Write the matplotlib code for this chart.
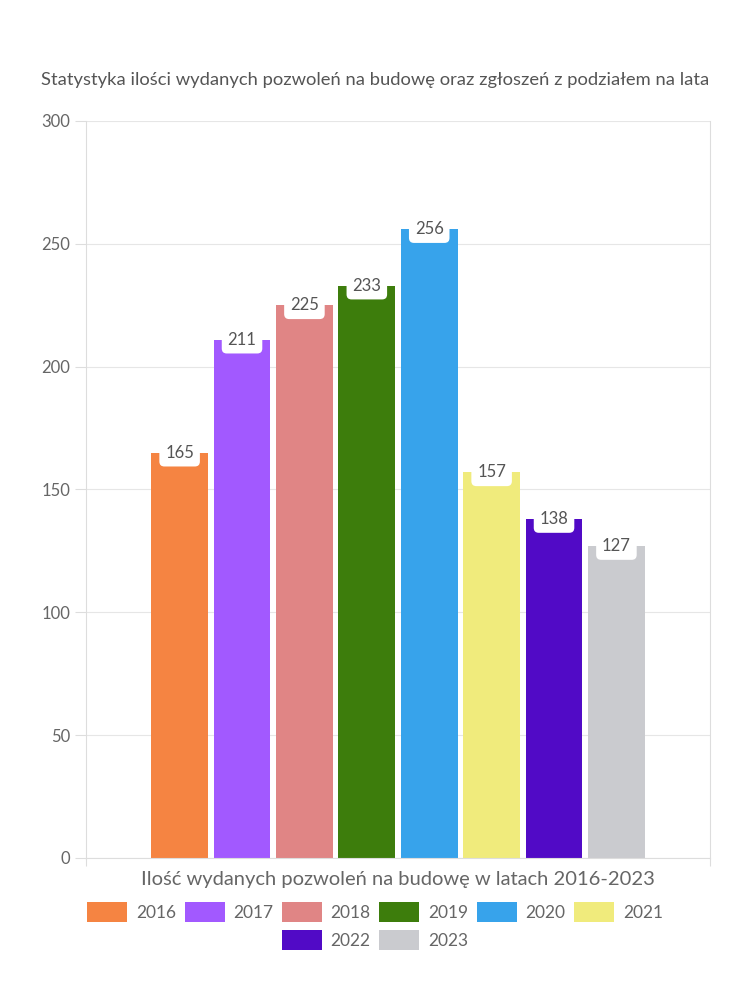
import matplotlib.pyplot as plt
from matplotlib.patches import Patch

# data
years = ['2016', '2017', '2018', '2019', '2020', '2021', '2022', '2023']
values = [165, 211, 225, 233, 256, 157, 138, 127]
colors = ['#F58442', '#A259FF', '#E08585', '#3D7D0C',
          '#37A3EB', '#F0EB7C', '#510AC6', '#CACBCF']
title = 'Statystyka ilości wydanych pozwoleń na budowę oraz zgłoszeń z podziałem na lata'
xlabel = 'Ilość wydanych pozwoleń na budowę w latach 2016-2023'

plt.rcParams['font.family'] = ['Lato', 'DejaVu Sans']
text_col = '#666666'
line_col = '#DDDDDD'

fig = plt.figure(figsize=(7.5, 10), dpi=100)
ax = fig.add_axes([0.1147, 0.142, 0.832, 0.737])

step = 0.1
width = 0.091
for i, (y, v, c) in enumerate(zip(years, values, colors)):
    x = (i - 3.5) * step
    ax.bar(x, v, width=width, color=c, zorder=2)
    ax.text(x, v, str(v), ha='center', va='center', fontsize=12,
            color='#555555', zorder=3,
            bbox=dict(boxstyle='round,pad=0.35,rounding_size=0.3',
                      fc='white', ec='none'))

ax.set_xlim(-0.5, 0.5)
ax.set_ylim(0, 300)
ax.set_yticks(range(0, 301, 50))
ax.set_xticks([-0.5, 0.5])
ax.set_xticklabels(['', ''])
ax.grid(axis='y', color='#E6E6E6', linewidth=0.8, zorder=0)
ax.tick_params(axis='y', colors=line_col, labelcolor=text_col,
               labelsize=12, length=8, width=0.8)
ax.tick_params(axis='x', colors=line_col, length=6, width=0.8)

for s in ['left', 'bottom', 'right']:
    ax.spines[s].set_color(line_col)
    ax.spines[s].set_linewidth(0.8)
ax.spines['top'].set_visible(False)

fig.text(0.5, 0.92, title, ha='center', va='center', fontsize=13.2,
         color='#555555')
fig.text(0.531, 0.12, xlabel, ha='center', va='center', fontsize=14.5,
         color=text_col)

# legend in two rows: 6 items on top, 2 centred below
handles = [Patch(facecolor=c, edgecolor='none', label=y)
           for y, c in zip(years, colors)]
leg_kw = dict(loc='center', frameon=False, fontsize=12.5,
              handlelength=2.3, handleheight=1.45, columnspacing=0.5,
              handletextpad=0.5, labelcolor=text_col)
fig.legend(handles=handles[:6], ncol=6, bbox_to_anchor=(0.5, 0.088), **leg_kw)
fig.legend(handles=handles[6:], ncol=2, bbox_to_anchor=(0.5, 0.06), **leg_kw)

fig.savefig('out.png', dpi=100, facecolor='white')
